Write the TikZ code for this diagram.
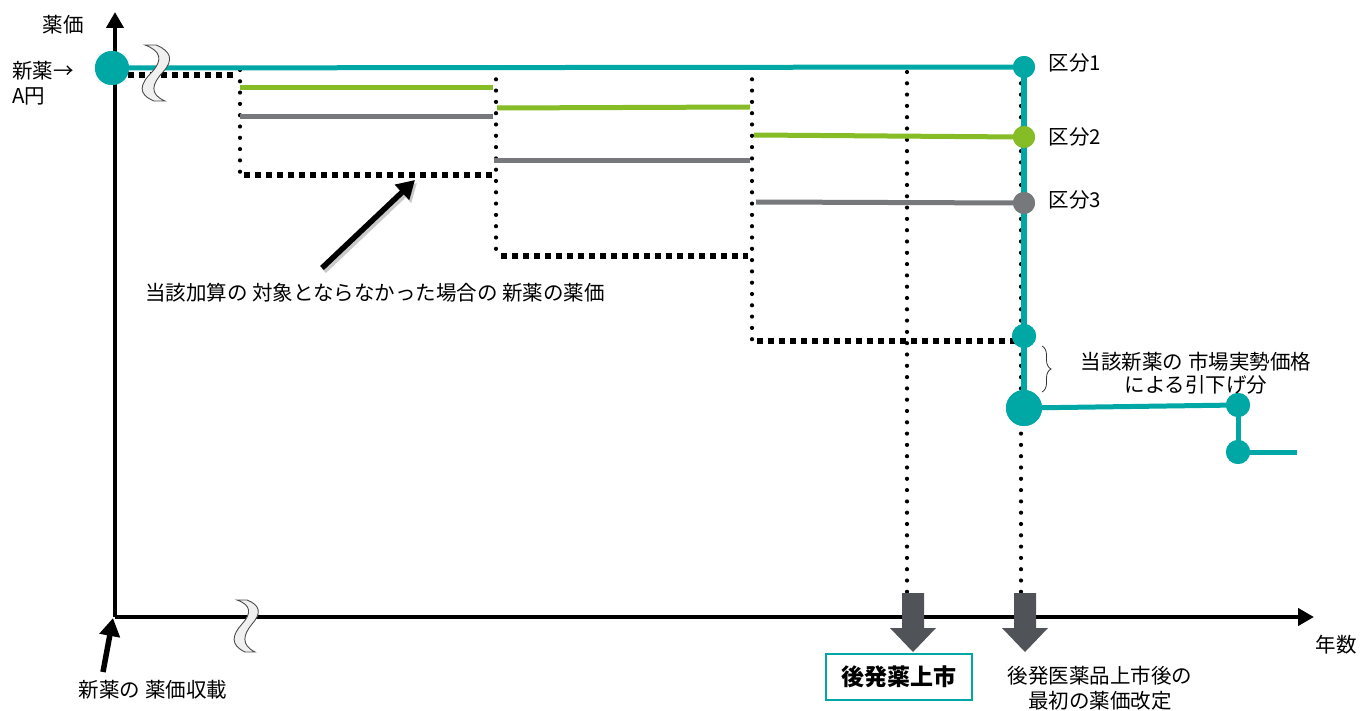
\documentclass[tikz,border=0pt]{standalone}
\usepackage{fontspec}
\setmainfont{Noto Sans CJK JP}
\usetikzlibrary{arrows.meta,decorations.pathreplacing,calc}
\definecolor{tealc}{RGB}{0,168,165}
\definecolor{greenc}{RGB}{134,188,37}
\definecolor{grayc}{RGB}{118,120,123}
\definecolor{blockc}{RGB}{80,83,88}
\definecolor{breakc}{RGB}{240,240,240}
\begin{document}
\begin{tikzpicture}[x=1pt,y=-1pt,
  lbl/.style={font=\fontsize{20.5}{24}\selectfont, inner sep=0pt},
  axis/.style={line width=4.5pt, -{Triangle[length=16pt,width=17pt]}},
  tealline/.style={tealc, line width=5pt},
  greenline/.style={greenc, line width=5pt},
  grayline/.style={grayc, line width=5pt},
  vdots/.style={line width=4.2pt, line cap=round, dash pattern=on 0pt off 11.3pt},
  hdash/.style={line width=5.5pt, dash pattern=on 6pt off 5pt},
  dot/.style={circle, inner sep=0pt, minimum size=#1},
  bigarrow/.style={line width=5.5pt, -{Triangle[length=18pt,width=20pt]}},
  shadowarrow/.style={line width=5.5pt, black!35, opacity=0.6, -{Triangle[length=18pt,width=20pt]}},
  breakfill/.style={fill=breakc, draw=black!70, line width=0.9pt},
  blockarrow/.style={fill=blockc}
]
\useasboundingbox (0,0) rectangle (1363,711);

% ---------- coordinates ----------
\coordinate (O) at (115,617);
\coordinate (Ytop) at (115,12);
\coordinate (Xend) at (1314,617);

% ---------- dotted/dashed guide lines ----------
\coordinate (d0) at (128,75);
\coordinate (d1) at (236,75);
\coordinate (v1t) at (240,70);
\coordinate (v1b) at (240,176);
\coordinate (h1a) at (244,175);
\coordinate (h1b) at (492,175);
\coordinate (v2t) at (496,68);
\coordinate (v2b) at (496,258);
\coordinate (h2a) at (501,256);
\coordinate (h2b) at (748,256);
\coordinate (v3t) at (752,68);
\coordinate (v3b) at (752,343);
\coordinate (h3a) at (757,341);
\coordinate (h3b) at (1016,341);
\coordinate (v4t) at (907,72);
\coordinate (v4b) at (907,596);
\coordinate (v5t) at (1021,72);
\coordinate (v5b) at (1021,596);

\draw[hdash] (d0) -- (d1);
\draw[vdots] (v1t) -- (v1b);
\draw[hdash] (h1a) -- (h1b);
\draw[vdots] (v2t) -- (v2b);
\draw[hdash] (h2a) -- (h2b);
\draw[vdots] (v3t) -- (v3b);
\draw[hdash] (h3a) -- (h3b);
\draw[vdots] (v4t) -- (v4b);
\draw[vdots] (v5t) -- (v5b);

% ---------- green and gray steps ----------
\coordinate (g1a) at (240,88);  \coordinate (g1b) at (493,88);
\coordinate (g2a) at (497,108); \coordinate (g2b) at (750,107);
\coordinate (g3a) at (754,135); \coordinate (g3b) at (1020,137);
\coordinate (k1a) at (240,117); \coordinate (k1b) at (493,117);
\coordinate (k2a) at (494,161); \coordinate (k2b) at (750,161);
\coordinate (k3a) at (756,202); \coordinate (k3b) at (1020,203);
\draw[greenline] (g1a) -- (g1b);
\draw[greenline] (g2a) -- (g2b);
\draw[greenline] (g3a) -- (g3b);
\draw[grayline] (k1a) -- (k1b);
\draw[grayline] (k2a) -- (k2b);
\draw[grayline] (k3a) -- (k3b);

% ---------- axes ----------
\draw[axis] (O) -- (Ytop);
\draw[axis] (O) -- (Xend);

% ---------- teal price path ----------
\node[dot=34pt, fill=tealc] (start) at (112,68) {};
\node[dot=22pt, fill=tealc] (c1) at (1024,67) {};
\node[dot=22pt, fill=greenc] (c2) at (1024,137) {};
\node[dot=22pt, fill=grayc] (c3) at (1024,203) {};
\node[dot=24pt, fill=tealc] (c4) at (1024,336) {};
\node[dot=36pt, fill=tealc] (c5) at (1024,408) {};
\node[dot=24pt, fill=tealc] (c6) at (1238,405) {};
\node[dot=24pt, fill=tealc] (c7) at (1238,452) {};
\coordinate (tend) at (1297,452);

\draw[tealline] (start.center) -- (c1.center);
\draw[tealc, line width=6pt] (c1.center) -- (c2.center) -- (c3.center) -- (c4.center) -- (c5.center);
\draw[tealline] (c5.center) -- (c6.center);
\draw[tealline] (c6.center) -- (c7.center) -- (tend);
\node[dot=22pt, fill=tealc] at (c1) {};
\node[dot=22pt, fill=greenc] at (c2) {};
\node[dot=22pt, fill=grayc] at (c3) {};
\node[dot=24pt, fill=tealc] at (c4) {};
\node[dot=36pt, fill=tealc] at (c5) {};
\node[dot=24pt, fill=tealc] at (c6) {};
\node[dot=24pt, fill=tealc] at (c7) {};
\node[dot=34pt, fill=tealc] at (start) {};

% ---------- break marks ----------
\path[breakfill] (145,45) .. controls (161,51) and (163,60) .. (152,72)
  .. controls (140,84) and (137,94) .. (154,101)
  -- (165,101) .. controls (149,94) and (152,84) .. (163,72)
  .. controls (174,60) and (171,51) .. (156,45) -- cycle;
\path[breakfill] (237,600) .. controls (251,605) and (252,613) .. (242,624)
  .. controls (232,635) and (230,645) .. (245,652)
  -- (255,652) .. controls (241,645) and (243,635) .. (252,624)
  .. controls (262,613) and (260,605) .. (247,600) -- cycle;

% ---------- block arrows ----------
\fill[blockarrow] (902,593) -- (924,593) -- (924,628) -- (936,628) -- (913,652) -- (890,628) -- (902,628) -- cycle;
\fill[blockarrow] (1014,593) -- (1036,593) -- (1036,628) -- (1048,628) -- (1025,652) -- (1002,628) -- (1014,628) -- cycle;

% ---------- labels ----------
\node[lbl] (ylab) at (63,25) {薬価};
\node[lbl, anchor=west] (newA) at (12,71) {新薬→};
\node[lbl, anchor=west] (yen) at (12,96) {A円};
\node[lbl] (k1) at (1075,63) {区分1};
\node[lbl] (k2) at (1075,137) {区分2};
\node[lbl] (k3) at (1075,200) {区分3};
\node[lbl, align=center, font=\fontsize{20.5}{23}\selectfont] (drop) at (1196,373) {当該新薬の 市場実勢価格\\による引下げ分};
\node[lbl] (xlab) at (1336,645) {年数};
\node[lbl] (ref) at (375,293) {当該加算の 対象とならなかった場合の 新薬の薬価};
\node[lbl] (list) at (153,690) {新薬の 薬価収載};
\node[draw=tealc, line width=2pt, minimum width=146pt, minimum height=46pt, inner sep=0pt,
      font=\fontsize{23}{26}\selectfont\bfseries] (gen) at (899,677) {後発薬上市};
\node[lbl, align=center, font=\fontsize{20.5}{25}\selectfont] (rev) at (1100,688) {後発医薬品上市後の\\最初の薬価改定};

% ---------- brace ----------
\coordinate (bt) at (1042,346);
\coordinate (bb) at (1042,392);
\draw[decorate, decoration={brace, amplitude=9pt}, line width=0.8pt, black!80] (bt) -- (bb);

% ---------- pointer arrows ----------
\coordinate (a1s) at (322,268);
\coordinate (a1e) at (415,180);
\coordinate (a2s) at (103,672);
\coordinate (a2e) at (113,618);
\draw[shadowarrow] ($(a1s)+(2,3)$) -- ($(a1e)+(2,3)$);
\draw[bigarrow] (a1s) -- (a1e);
\draw[bigarrow] (a2s) -- (a2e);
\end{tikzpicture}
\end{document}
